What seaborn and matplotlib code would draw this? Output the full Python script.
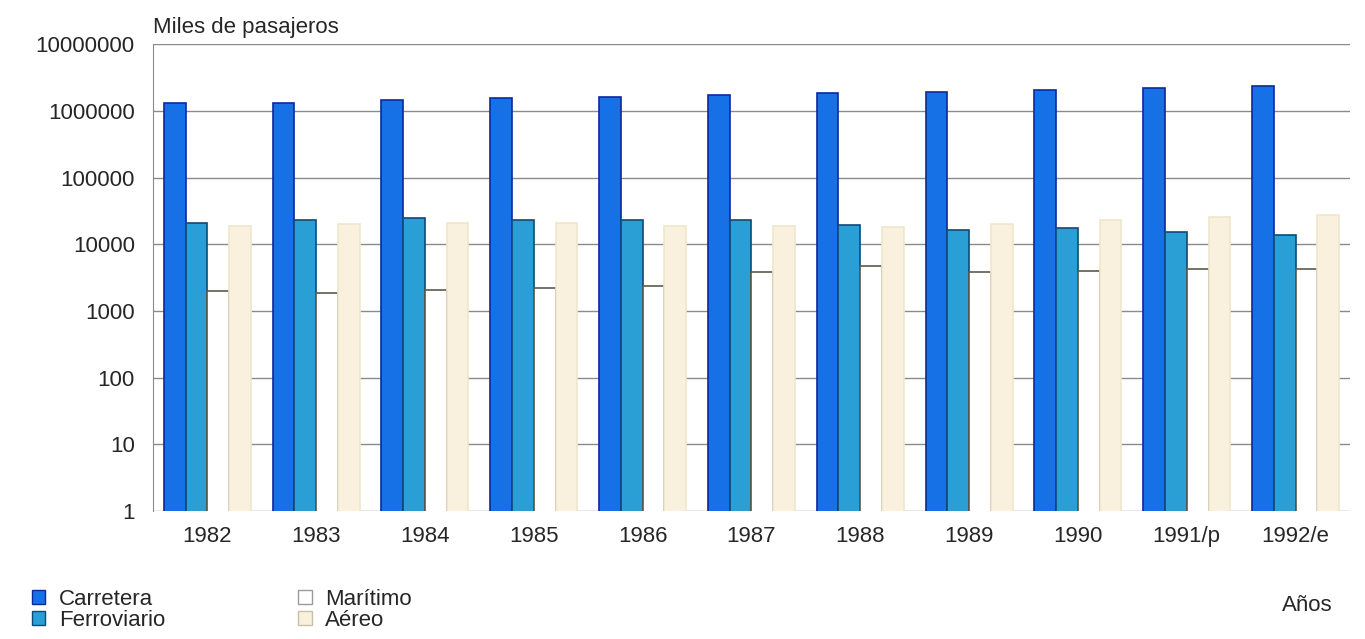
import pandas as pd
import seaborn as sns
import matplotlib.pyplot as plt
from matplotlib.ticker import FixedLocator, NullLocator

# Datos (miles de pasajeros)
anios = ["1982", "1983", "1984", "1985", "1986", "1987", "1988", "1989", "1990", "1991/p", "1992/e"]
carretera = [1320000, 1330000, 1460000, 1570000, 1620000, 1740000, 1860000, 1930000, 2060000, 2200000, 2370000]
ferroviario = [21000, 23000, 24500, 23500, 23000, 23000, 19500, 16500, 17500, 15500, 14000]
maritimo = [2000, 1860, 2070, 2200, 2400, 3800, 4800, 3800, 4000, 4300, 4300]
aereo = [19000, 20000, 21000, 21000, 19000, 19000, 18000, 20000, 23000, 26000, 27000]

modos = ["Carretera", "Ferroviario", "Marítimo", "Aéreo"]
colores = ["#1670e6", "#2a9fd6", "#ffffff", "#f9f1dd"]
bordes = ["#0a2a9a", "#0d4a78", "#5a5a4a", "#efe6cc"]
ticks = [1, 10, 100, 1000, 10000, 100000, 1000000, 10000000]

df = pd.DataFrame({
    "anio": anios * 4,
    "modo": [m for m in modos for _ in anios],
    "valor": carretera + ferroviario + maritimo + aereo,
})

sns.set_style("white")
plt.rcParams["font.family"] = ["Liberation Sans", "DejaVu Sans"]

fig = plt.figure(figsize=(13.65, 6.39), dpi=100)
ax = fig.add_axes([0.112, 0.2, 0.877, 0.731])

sns.barplot(data=df, x="anio", y="valor", hue="modo", palette=colores,
            width=0.8, gap=0.0, ax=ax, saturation=1)
ax.set_yscale("log")
ax.set_ylim(1, 10000000)
ax.set_xlim(-0.5, len(anios) - 0.5)

# bordes de las barras por serie
for cont, ec in zip(ax.containers, bordes):
    for p in cont:
        p.set_edgecolor(ec)
        p.set_linewidth(1.2)

ax.yaxis.set_major_locator(FixedLocator(ticks))
ax.yaxis.set_minor_locator(NullLocator())
ax.set_yticklabels([str(t) for t in ticks])
ax.grid(axis="y", color="#8a8a8a", linewidth=1)
ax.set_axisbelow(True)
ax.tick_params(axis="both", labelsize=16, length=0)
ax.tick_params(axis="y", pad=13)
ax.tick_params(axis="x", pad=11)
for s in ["top", "right", "bottom"]:
    ax.spines[s].set_visible(False)
ax.spines["left"].set_color("#8a8a8a")
ax.set_xlabel("")
ax.set_ylabel("")

# leyenda abajo a la izquierda
ax.get_legend().remove()
handles = [plt.Rectangle((0, 0), 1, 1, facecolor=c, edgecolor=e, linewidth=1)
           for c, e in zip(colores, ["#0a2a9a", "#0d4a78", "#9a9a9a", "#c8c0a8"])]
fig.legend(handles, modos, ncol=2, loc="upper left",
           bbox_to_anchor=(32 / 1365, 1 - 589 / 639),
           frameon=False, fontsize=16, handlelength=0.6, handleheight=0.6,
           labelspacing=0.0, columnspacing=6.0, handletextpad=0.6,
           borderpad=0, borderaxespad=0)

fig.text(0.112, 0.948, "Miles de pasajeros", fontsize=16, ha="left", va="baseline")
fig.text(0.9766, 0.044, "Años", fontsize=16, ha="right", va="baseline")

fig.savefig("out.png", dpi=100)
